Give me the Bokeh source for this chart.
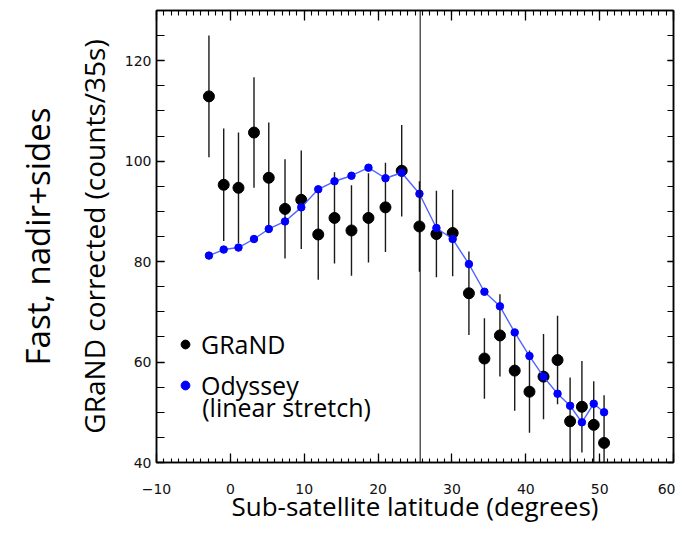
import numpy as np
from bokeh.plotting import figure
from bokeh.models import (FixedTicker, LinearAxis, Span, Label, Legend, LegendItem,
                          ColumnDataSource, Range1d, Title)
from bokeh.embed import file_html
from bokeh.resources import INLINE

# ---------------- data ----------------
latitude = [-2.9, -0.9, 1.1, 3.2, 5.2, 7.4, 9.6, 11.9, 14.1, 16.4, 18.7, 21.0, 23.2, 25.6,
            27.9, 30.1, 32.3, 34.4, 36.5, 38.5, 40.5, 42.4, 44.3, 46.0, 47.6, 49.2, 50.6]
grand = [112.9, 95.3, 94.7, 105.7, 96.7, 90.5, 92.3, 85.4, 88.7, 86.2, 88.7, 90.8, 98.1, 87.0,
         85.5, 85.7, 73.7, 60.7, 65.3, 58.3, 54.1, 57.1, 60.4, 48.2, 51.1, 47.5, 43.9]
grand_err = [12.1, 11.2, 11.0, 11.0, 11.0, 9.9, 9.8, 9.0, 9.1, 9.0, 8.9, 8.9, 9.1, 9.0,
             8.6, 8.6, 8.3, 8.0, 8.2, 8.0, 8.2, 8.5, 8.8, 8.7, 9.1, 8.7, 9.5]
odyssey = [81.2, 82.4, 82.8, 84.5, 86.5, 88.0, 90.8, 94.4, 96.0, 97.1, 98.7, 96.6, 97.7, 93.5,
           86.7, 84.5, 79.5, 74.0, 71.1, 65.9, 61.2, 57.1, 53.7, 51.3, 48.0, 51.7, 50.0]
divider_latitude = 25.7

x_major = [-10, 0, 10, 20, 30, 40, 50, 60]
x_minor = list(range(-10, 61))
y_major = [40, 60, 80, 100, 120]
y_minor = list(range(40, 131, 5))

x_title = "Sub-satellite latitude (degrees)"
y_title = "GRaND corrected (counts/35s)"
side_title = "Fast, nadir+sides"
legend_labels = ["GRaND", "Odyssey", "(linear stretch)"]

# ---------------- figure ----------------
p = figure(width=675, height=526, x_range=Range1d(-10, 60), y_range=Range1d(40, 130),
           output_backend="svg", toolbar_location=None,
           min_border_left=155, min_border_right=2, min_border_top=10, min_border_bottom=64,
           x_axis_type=None, y_axis_type=None)
p.outline_line_color = "black"
p.outline_line_width = 1.5
p.background_fill_color = "white"
p.border_fill_color = "white"

TICK_FONT = "DejaVu Sans"
TITLE_FONT = "Open Sans"


def axis(ticker, major_in, minor_in, show_labels, standoff):
    a = LinearAxis(ticker=ticker, major_tick_in=major_in, major_tick_out=0,
                   minor_tick_in=minor_in, minor_tick_out=0,
                   axis_line_color="black", axis_line_width=1.5,
                   major_tick_line_color="black", major_tick_line_width=1.3,
                   minor_tick_line_color="black", minor_tick_line_width=1.1,
                   major_label_text_font=TICK_FONT,
                   major_label_text_font_size="14px",
                   major_label_text_color="#111111" if show_labels else None,
                   major_label_standoff=standoff)
    return a


xt = FixedTicker(ticks=x_major, minor_ticks=x_minor)
yt = FixedTicker(ticks=y_major, minor_ticks=y_minor)

bottom = axis(xt, 9, 4, True, 21)
bottom.axis_label = x_title
bottom.axis_label_text_font = TITLE_FONT
bottom.axis_label_text_font_size = "26px"
bottom.axis_label_text_font_style = "normal"
bottom.axis_label_text_color = "black"
bottom.axis_label_standoff = -9
p.add_layout(bottom, "below")

left = axis(yt, 8, 8, True, 5)
left.axis_label = y_title
left.axis_label_text_font = TITLE_FONT
left.axis_label_text_font_size = "28px"
left.axis_label_text_font_style = "normal"
left.axis_label_text_color = "black"
left.axis_label_standoff = 9
p.add_layout(left, "left")

p.add_layout(axis(xt, 10, 5, False, 0), "above")
p.add_layout(axis(yt, 6, 6, False, 0), "right")

p.add_layout(Title(text=side_title, align="center", standoff=24, text_font=TITLE_FONT,
                   text_font_size="33px", text_font_style="normal", text_color="black"), "left")

# ---------------- data glyphs ----------------
src = ColumnDataSource(dict(
    lat=latitude, grand=grand,
    lo=list(np.array(grand) - np.array(grand_err)),
    hi=list(np.array(grand) + np.array(grand_err)),
    ody=odyssey))

p.segment(x0="lat", y0="lo", x1="lat", y1="hi", source=src, line_color="#1a1a1a", line_width=1.4)
r_grand = p.scatter(x="lat", y="grand", source=src, size=11, fill_color="black", line_color="black")
p.line(x="lat", y="ody", source=src, line_color="#4f63ff", line_width=1.4)
r_ody = p.scatter(x="lat", y="ody", source=src, size=7.5, fill_color="#0000ff", line_color="#0000ff")

p.add_layout(Span(location=divider_latitude, dimension="height", line_color="black", line_width=1))

legend = Legend(items=[LegendItem(label=legend_labels[0], renderers=[r_grand]),
                       LegendItem(label=legend_labels[1], renderers=[r_ody])],
                location=(18, 59), orientation="vertical", padding=0, margin=0, spacing=5,
                glyph_width=22, glyph_height=36, label_height=36, label_standoff=5,
                label_text_font=TITLE_FONT, label_text_font_size="25px",
                label_text_color="black",
                background_fill_alpha=0, border_line_color=None)
p.add_layout(legend)

p.add_layout(Label(x=45.7, y=56, x_units="screen", y_units="screen", text=legend_labels[2],
                   text_font=TITLE_FONT, text_font_size="25px", text_color="black",
                   text_align="left", text_baseline="middle"))

open("out.html", "w").write(file_html(p, INLINE))
